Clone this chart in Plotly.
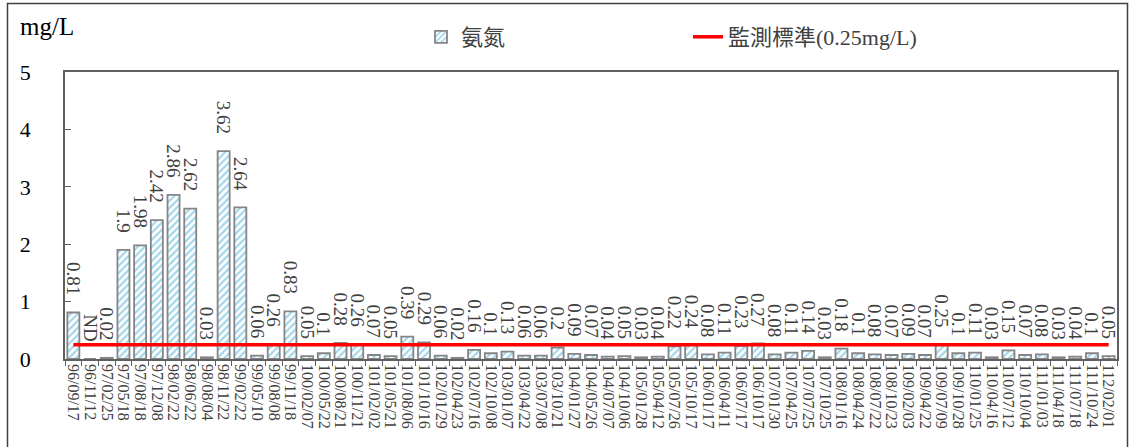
import plotly.graph_objects as go

dates = ["96/09/17","96/11/12","97/02/25","97/05/18","97/08/18","97/12/08","98/02/22","98/06/22","98/08/04","98/11/22",
         "99/02/22","99/05/10","99/08/08","99/11/18","100/02/07","100/05/22","100/08/21","100/11/21","101/02/02","101/05/21",
         "101/08/06","101/10/16","102/01/29","102/04/23","102/07/16","102/10/08","103/01/07","103/04/22","103/07/08","103/10/21",
         "104/01/27","104/05/26","104/07/07","104/10/06","105/01/28","105/04/12","105/07/26","105/10/17","106/01/17","106/04/11",
         "106/07/17","106/10/17","107/01/30","107/04/25","107/07/25","107/10/25","108/01/16","108/04/24","108/07/22","108/10/23",
         "109/02/03","109/04/22","109/07/09","109/10/28","110/01/25","110/04/16","110/07/12","110/10/04","111/01/03","111/04/18",
         "111/07/18","111/10/24","112/02/01"]

ammonia = [0.81, 0, 0.02, 1.9, 1.98, 2.42, 2.86, 2.62, 0.03, 3.62,
           2.64, 0.06, 0.26, 0.83, 0.05, 0.1, 0.28, 0.26, 0.07, 0.05,
           0.39, 0.29, 0.06, 0.02, 0.16, 0.1, 0.13, 0.06, 0.06, 0.2,
           0.09, 0.07, 0.04, 0.05, 0.03, 0.04, 0.22, 0.24, 0.08, 0.11,
           0.23, 0.27, 0.08, 0.11, 0.14, 0.03, 0.18, 0.1, 0.08, 0.07,
           0.09, 0.07, 0.25, 0.1, 0.11, 0.03, 0.15, 0.07, 0.08, 0.03,
           0.04, 0.1, 0.05]
labels = ["0.81", "ND", "0.02", "1.9", "1.98", "2.42", "2.86", "2.62", "0.03", "3.62",
          "2.64", "0.06", "0.26", "0.83", "0.05", "0.1", "0.28", "0.26", "0.07", "0.05",
          "0.39", "0.29", "0.06", "0.02", "0.16", "0.1", "0.13", "0.06", "0.06", "0.2",
          "0.09", "0.07", "0.04", "0.05", "0.03", "0.04", "0.22", "0.24", "0.08", "0.11",
          "0.23", "0.27", "0.08", "0.11", "0.14", "0.03", "0.18", "0.1", "0.08", "0.07",
          "0.09", "0.07", "0.25", "0.1", "0.11", "0.03", "0.15", "0.07", "0.08", "0.03",
          "0.04", "0.1", "0.05"]
standard = 0.25

W, H = 1134, 447
# plot area in page pixels: left 65, right 1117, top 72, bottom 359
ML, MT = 65, 72
MR = W - 1117
MB = H - 359
FONT = "Liberation Serif"
TXT = "#404040"
AX = "#606060"

pw = W - ML - MR
ph = H - MT - MB

def px_x(p):
    return (p - ML) / pw

def px_y(p):
    return 1 - (p - MT) / ph

PAD = "\u00a0\u00a0\u00a0"

fig = go.Figure()
fig.add_trace(go.Bar(
    x=dates, y=ammonia, name="氨氮",
    text=[t + PAD for t in labels], textposition="outside", textangle=90,
    constraintext="none", cliponaxis=False,
    textfont=dict(family=FONT, size=19, color=TXT),
    marker=dict(color="white",
                line=dict(color="#858585", width=1.8),
                pattern=dict(shape="/", fgcolor="#45AED6", bgcolor="white", size=5, solidity=0.45)),
    width=0.72,
))
fig.add_trace(go.Scatter(
    x=dates, y=[standard] * len(dates), mode="lines",
    name="監測標準(0.25mg/L)",
    line=dict(color="#FF0000", width=3.5),
))

# outer chart frame
fig.add_shape(type="rect", xref="paper", yref="paper",
              x0=px_x(7.5), x1=px_x(1127.5), y0=px_y(452), y1=px_y(3.5),
              line=dict(color="#404040", width=1.5), layer="above")

fig.add_annotation(text="mg/L", xref="paper", yref="paper",
                   x=px_x(18), y=px_y(27),
                   xanchor="left", yanchor="middle", showarrow=False,
                   font=dict(family=FONT, size=25, color="black"))

fig.update_layout(
    width=W, height=H,
    margin=dict(l=ML, r=MR, t=MT, b=MB, autoexpand=False),
    paper_bgcolor="white", plot_bgcolor="white",
    font=dict(family=FONT, color=TXT),
    showlegend=True,
    legend=dict(orientation="h", x=px_x(421), y=px_y(37), xanchor="left", yanchor="middle",
                entrywidth=222, entrywidthmode="pixels",
                font=dict(family=FONT + ", Noto Sans CJK TC", size=22, color=TXT),
                bgcolor="rgba(0,0,0,0)"),
    xaxis=dict(type="category", tickangle=90, tickson="boundaries",
               tickmode="array", tickvals=dates, ticktext=dates,
               ticks="outside", ticklen=5, tickcolor=AX,
               showline=True, linecolor=AX, linewidth=1.5, mirror=True,
               tickfont=dict(family=FONT, size=16, color=TXT),
               showgrid=False, range=[-0.5, len(dates) - 0.5], automargin=False),
    yaxis=dict(range=[0, 5], dtick=1, ticks="inside", ticklen=6, tickcolor=AX,
               showline=True, linecolor=AX, linewidth=1.5, mirror=True,
               showgrid=False, zeroline=False, ticklabelstandoff=28, automargin=False,
               tickfont=dict(family=FONT, size=22, color="black")),
)

fig.write_html("out.html", config={"displayModeBar": False},
               post_script="document.body.style.margin='0';document.body.style.overflow='hidden';")
